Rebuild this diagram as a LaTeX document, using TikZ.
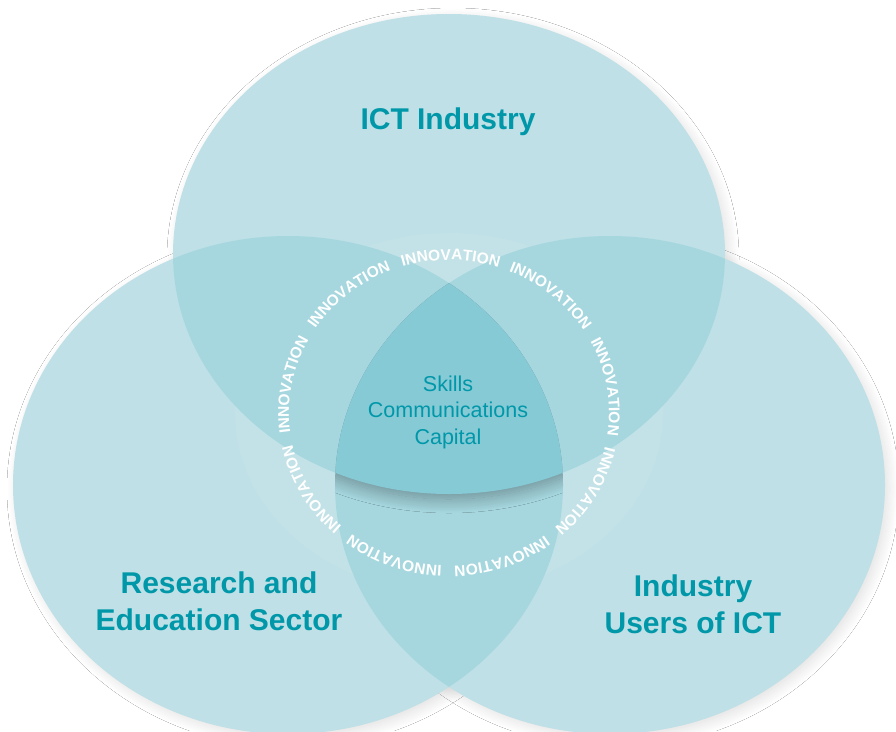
\documentclass[tikz,border=0pt]{standalone}
\usepackage{fontspec}
\setmainfont{Liberation Sans}
\usetikzlibrary{calc,shadows.blur,decorations.text}
\definecolor{circlefill}{RGB}{190,224,230}
\definecolor{overlapfill}{RGB}{166,215,223}
\definecolor{corefill}{RGB}{134,202,214}
\definecolor{labelteal}{RGB}{0,151,169}

\begin{document}
\begin{tikzpicture}[x=1pt, y=-1pt]
    \tikzstyle{sector} = [font=\fontsize{30}{37}\selectfont\bfseries, text=labelteal, align=center]
    \tikzstyle{core} = [font=\fontsize{21.5}{26.5}\selectfont, text=labelteal, align=center]
    \tikzstyle{soft shadow} = [blur shadow={shadow xshift=4pt, shadow yshift=-4pt, shadow blur radius=10pt, shadow blur steps=20, shadow opacity=12}]
    \tikzstyle{core shadow} = [blur shadow={shadow xshift=0pt, shadow yshift=-5pt, shadow blur radius=14pt, shadow blur steps=25, shadow opacity=35}]

    \clip (0,0) rectangle (896,731);
    \fill[white] (0,0) rectangle (896,731);

    % Centres
    \coordinate (ict) at (449,254);
    \coordinate (edu) at (288,485);
    \coordinate (usr) at (610,485);
    \coordinate (ring) at (449,413);

    % Circles
    \path[soft shadow] (edu) ellipse[x radius=275, y radius=249];
    \path[soft shadow] (usr) ellipse[x radius=275, y radius=249];
    \path[soft shadow] (ict) ellipse[x radius=276, y radius=240];
    \fill[circlefill] (edu) ellipse[x radius=275, y radius=249]
        (usr) ellipse[x radius=275, y radius=249]
        (ict) ellipse[x radius=276, y radius=240];
    \fill[white, fill opacity=0.08] (ring) ellipse[x radius=214, y radius=180];

    % Overlaps
    \begin{scope}
        \clip (ict) ellipse[x radius=276, y radius=240];
        \fill[overlapfill] (edu) ellipse[x radius=275, y radius=249]
            (usr) ellipse[x radius=275, y radius=249];
    \end{scope}
    \begin{scope}
        \clip (edu) ellipse[x radius=275, y radius=249];
        \fill[overlapfill] (usr) ellipse[x radius=275, y radius=249];
    \end{scope}
    \begin{scope}
        \clip (edu) ellipse[x radius=275, y radius=249];
        \clip (usr) ellipse[x radius=275, y radius=249];
        \fill[corefill, core shadow] (ict) ellipse[x radius=276, y radius=240];
    \end{scope}

    % Innovation ring
    \path[decorate, decoration={text along path, text align=fit to path stretching spaces,
        text={|\fontsize{15.5}{16}\selectfont\bfseries\color{white}|INNOVATION INNOVATION INNOVATION INNOVATION INNOVATION INNOVATION INNOVATION INNOVATION INNOVATION}}]
        ($(ring)+(-68:160 and 153)$) arc[start angle=-68, end angle=288, x radius=160, y radius=153];

    % Labels
    \node[sector] (ictlabel) at (448,122) {ICT Industry};
    \node[sector] (edulabel) at (219,601) {Research and\\Education Sector};
    \node[sector] (usrlabel) at (693,604) {Industry\\Users of ICT};
    \node[core] (corelabel) at (448,412) {Skills\\Communications\\Capital};
\end{tikzpicture}
\end{document}
